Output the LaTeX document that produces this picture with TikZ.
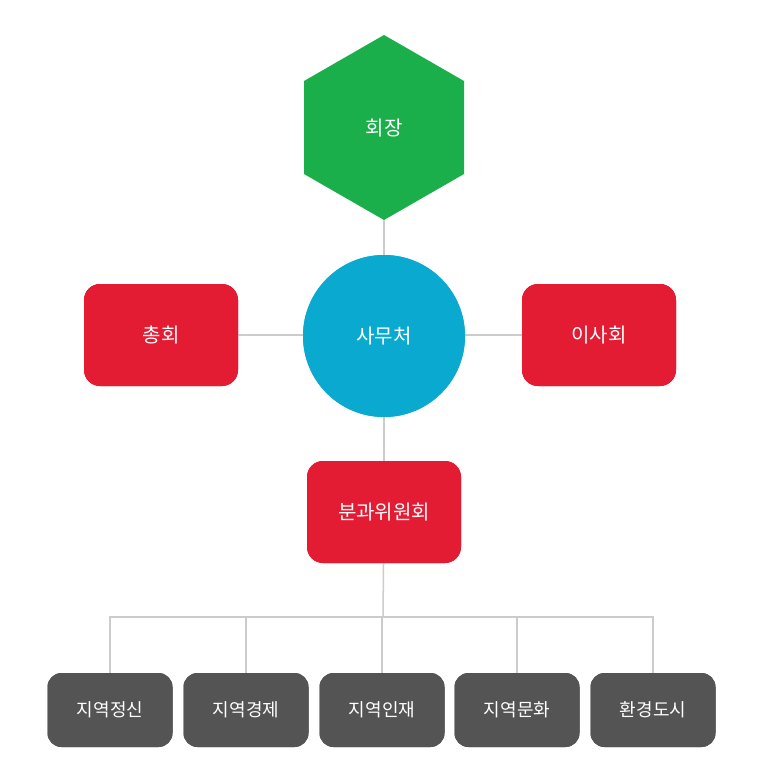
\documentclass[tikz,border=0pt]{standalone}
\usepackage{fontspec}
\setmainfont{Noto Sans CJK KR}
\definecolor{cgreen}{HTML}{1BAF4B}
\definecolor{cblue}{HTML}{0AAAD0}
\definecolor{cred}{HTML}{E31B33}
\definecolor{cgrey}{HTML}{545454}
\definecolor{cline}{HTML}{CCCCCC}
\begin{document}
\begin{tikzpicture}[x=1pt,y=-1pt,
  redbox/.style={fill=cred,rounded corners=16pt,minimum width=154pt,minimum height=102pt,text=white,font=\fontsize{20}{24}\selectfont},
  greybox/.style={fill=cgrey,rounded corners=14pt,minimum width=125pt,minimum height=74pt,text=white,font=\fontsize{18}{22}\selectfont},
  conn/.style={draw=cline,line width=1.5pt}]
\useasboundingbox (0,0) rectangle (768,782);
\fill[white] (0,0) rectangle (768,782);
% connectors first
\coordinate (hexc) at (384,128);
\node[circle,fill=cblue,minimum size=162pt,inner sep=0pt] (c) at (384,336) {};
\node[redbox] (l) at (161,335) {};
\node[redbox] (r) at (599,335) {};
\node[redbox] (m) at (384,512) {};
\node[greybox] (b1) at (110,710) {};
\node[greybox] (b2) at (246,710) {};
\node[greybox] (b3) at (382,710) {};
\node[greybox] (b4) at (517,710) {};
\node[greybox] (b5) at (653,710) {};
\coordinate (j) at (383,617);
\draw[conn] (hexc) -- (c);
\draw[conn] (l) -- (r);
\draw[conn] (c) -- (m);
\draw[conn] (m.center) -- (j);
\draw[conn] (b1.center) |- (j) -| (b5.center);
\draw[conn] (b2.center) -- (b2.center |- j);
\draw[conn] (b3.center) -- (b3.center |- j);
\draw[conn] (b4.center) -- (b4.center |- j);
% shapes over lines
\fill[cgreen] (384,35) -- (464,81) -- (464,174) -- (384,220) -- (304,174) -- (304,81) -- cycle;
\node[text=white,font=\fontsize{20}{24}\selectfont] (h) at (hexc) {회장};
\node[circle,fill=cblue,minimum size=162pt,inner sep=0pt,text=white,font=\fontsize{20}{24}\selectfont] at (c) {사무처};
\node[redbox] at (l) {총회};
\node[redbox] at (r) {이사회};
\node[redbox] at (m) {분과위원회};
\node[greybox] at (b1) {지역정신};
\node[greybox] at (b2) {지역경제};
\node[greybox] at (b3) {지역인재};
\node[greybox] at (b4) {지역문화};
\node[greybox] at (b5) {환경도시};
\end{tikzpicture}
\end{document}
